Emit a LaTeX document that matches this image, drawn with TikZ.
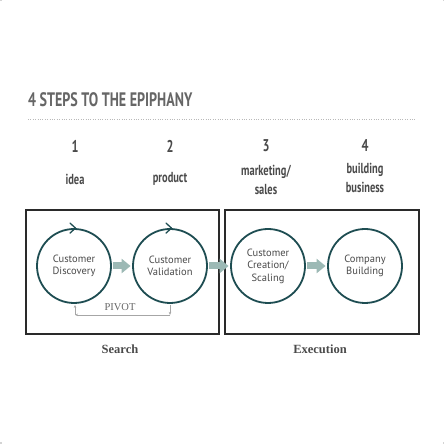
\documentclass[tikz,border=0pt]{standalone}
\usepackage{fontspec}
\setmainfont{Liberation Serif}
\newfontfamily\cond[FakeStretch=0.72]{PT Sans}
\newfontfamily\ptsans{PT Sans}
\usetikzlibrary{arrows.meta}
\definecolor{teal1}{HTML}{1E4D52}
\definecolor{fatc}{HTML}{9CB9B5}
\definecolor{boxc}{HTML}{2A2A2A}
\definecolor{txtg}{HTML}{4A4A4A}
\definecolor{ttlg}{HTML}{666666}
\definecolor{markc}{HTML}{D4D4D4}
\tikzset{
  stage/.style={circle, draw=teal1, line width=1.8pt, minimum size=74pt, inner sep=0pt,
    align=center, font=\ptsans\fontsize{10.5}{12.5}\selectfont, text=txtg},
  chev/.style={draw=teal1, line width=1.3pt, line cap=round, line join=round},
  fat/.style={draw=fatc, line width=7pt, shorten <=1.5pt, shorten >=1.5pt,
    -{Triangle[length=9pt,width=14pt]}},
  boxframe/.style={draw=boxc, line width=1.4pt, inner sep=0pt},
  piv/.style={draw=gray!70, line width=0.6pt, -{Stealth[length=3pt,width=2.5pt]}},
  num/.style={font=\cond\bfseries\fontsize{17}{20}\selectfont, text=txtg},
  lab/.style={font=\cond\bfseries\fontsize{14.5}{19}\selectfont, text=txtg, align=center},
  phase/.style={font=\bfseries\fontsize{12.5}{15}\selectfont, text=txtg},
}
\begin{document}
\begin{tikzpicture}[x=1pt,y=1pt]
\useasboundingbox (0,0) rectangle (444,444);
\fill[white] (0,0) rectangle (444,444);
% faint corner marks keep the page margins
\fill[markc] (0,0) rectangle (1.5,1.5);
\fill[markc] (442.5,0) rectangle (444,1.5);
\fill[markc] (0,442.5) rectangle (1.5,444);
\fill[markc] (442.5,442.5) rectangle (444,444);
% title
\node[anchor=base west, inner sep=0pt, font=\cond\bfseries\fontsize{19.5}{22}\selectfont, text=ttlg] (title) at (28,337) {4 STEPS TO THE EPIPHANY};
\coordinate (d1) at (28,325);
\coordinate (d2) at (416,325);
\draw[color=gray!55, line width=0.8pt, dash pattern=on 0.8pt off 1.6pt] (d1) -- (d2);
% numbers
\node[num] (n1) at (75,298) {1};
\node[num] (n2) at (170,298) {2};
\node[num] (n3) at (266,298) {3};
\node[num] (n4) at (365,298) {4};
% labels
\node[lab] (l1) at (75,265) {idea};
\node[lab] (l2) at (170,265) {product};
\node[lab] (l3) at (266,264) {marketing/\\sales};
\node[lab] (l4) at (365,266) {building\\business};
% frames
\node[boxframe, minimum width=193pt, minimum height=124pt] (search) at (122.5,172) {};
\node[boxframe, minimum width=194pt, minimum height=124pt] (exec) at (322,172) {};
\node[phase] (sl) at (120,95) {Search};
\node[phase] (el) at (320,95) {Execution};
% circles
\node[stage] (c1) at (74,178) {Customer\\Discovery};
\node[stage] (c2) at (170,178) {Customer\\Validation};
\node[stage] (c3) at (268,178) {Customer\\Creation/\\Scaling};
\node[stage] (c4) at (365,178) {Company\\Building};
% chevrons on circles
\draw[chev] ([shift={(-4,5)}]c1.north) -- ([shift={(1.5,0)}]c1.north) -- ([shift={(-4,-5)}]c1.north);
\draw[chev] ([shift={(-4,5)}]c2.north) -- ([shift={(1.5,0)}]c2.north) -- ([shift={(-4,-5)}]c2.north);
% fat arrows
\draw[fat] (c1) -- (c2);
\draw[fat] (c2) -- (c3);
\draw[fat] (c3) -- (c4);
% pivot loop
\coordinate (q1) at ([shift={(1,-11)}]c1.south);
\coordinate (q2) at ([yshift=-11]c2.south);
\coordinate (t1) at ([shift={(1,-1)}]c1.south);
\coordinate (t2) at ([yshift=-1]c2.south);
\draw[piv] (t2) -- (q2);
\draw[piv] (q2) -- (q1);
\draw[piv] (q1) -- (t1);
\node[font=\fontsize{10.5}{12}\selectfont, text=gray!80!black] (pivot) at (120,137) {PIVOT};
\end{tikzpicture}
\end{document}
